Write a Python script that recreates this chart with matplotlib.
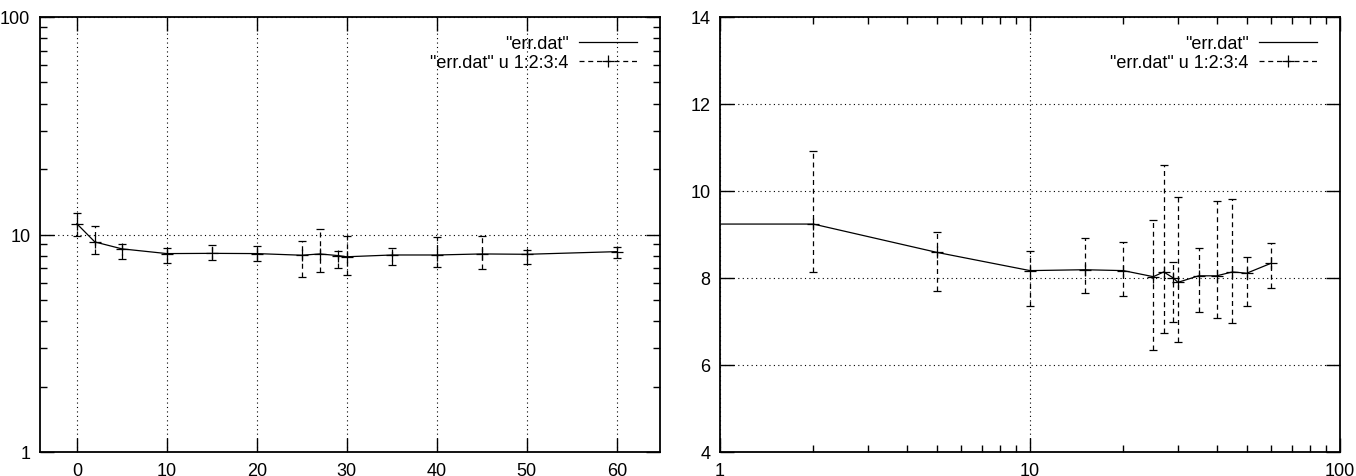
import numpy as np
import matplotlib
matplotlib.use("Agg")
import matplotlib.pyplot as plt
from matplotlib.lines import Line2D
from matplotlib.ticker import LogLocator, NullFormatter

plt.rcParams['font.family'] = ['Liberation Sans', 'DejaVu Sans']
plt.rcParams['font.size'] = 13

# data (err.dat: x, y, ylow, yhigh)
x = np.array([0, 2, 5, 10, 15, 20, 25, 27, 29, 30, 35, 40, 45, 50, 60])
y = np.array([11.2, 9.24, 8.59, 8.17, 8.19, 8.17, 8.03, 8.14, 8.0, 7.9, 8.05, 8.05, 8.14, 8.11, 8.34])
ylow = np.array([9.8, 8.14, 7.71, 7.36, 7.65, 7.59, 6.35, 6.73, 7.0, 6.54, 7.21, 7.08, 6.97, 7.35, 7.77])
yhigh = np.array([12.6, 10.93, 9.06, 8.63, 8.93, 8.83, 9.34, 10.6, 8.36, 9.86, 8.68, 9.78, 9.82, 8.49, 8.80])

label1 = '"err.dat"'
label2 = '"err.dat" u 1:2:3:4'

DASH = (0, (4, 3))
DOT = (0, (1, 3))

fig = plt.figure(figsize=(13.56, 4.77), dpi=100)
W, H = 1356, 477
ax1 = fig.add_axes([40 / W, 1 - 453 / H, 620 / W, 435 / H])
ax2 = fig.add_axes([720 / W, 1 - 453 / H, 620 / W, 435 / H])


def draw(ax, xs, ys, lo, hi, line_x, line_y):
    ax.plot(line_x, line_y, color='k', lw=0.9)
    eb = ax.errorbar(xs, ys, yerr=[ys - lo, hi - ys], fmt='+', color='k',
                     ms=8, mew=0.9, elinewidth=0.9, capsize=3, capthick=0.9)
    eb[2][0].set_linestyle(DASH)
    handles = [Line2D([], [], color='k', lw=0.9),
               Line2D([], [], color='k', lw=0.9, ls=DASH, marker='+', ms=8, mew=0.9)]
    ax.legend(handles, [label1, label2], loc='upper right', bbox_to_anchor=(0.963, 0.958),
              frameon=False, markerfirst=False, borderpad=0, borderaxespad=0,
              handlelength=3.2, handletextpad=0.6, labelspacing=0.1, fontsize=13)
    ax.grid(True, which='major', color='k', ls=DOT, lw=0.8)
    ax.tick_params(which='both', direction='in', top=True, right=True, width=1.0)
    ax.tick_params(which='major', length=10, pad=7)
    ax.tick_params(which='minor', length=5)
    for s in ax.spines.values():
        s.set_linewidth(1.3)


# left: linear x, log y
draw(ax1, x, y, ylow, yhigh, x, y)
ax1.set_yscale('log')
ax1.set_ylim(1, 100)
ax1.set_xlim(-4.1, 64.8)
ax1.set_xticks(np.arange(0, 61, 10))
ax1.set_yticks([1, 10, 100])
ax1.set_yticklabels(['1', '10', '100'])
ax1.yaxis.set_minor_locator(LogLocator(base=10, subs=np.arange(2, 10)))
ax1.yaxis.set_minor_formatter(NullFormatter())

# right: log x, linear y (x=0 is undefined on a log axis)
valid = x > 0
X2_MIN = 1
draw(ax2, x[valid], y[valid], ylow[valid], yhigh[valid],
     np.r_[X2_MIN, x[valid]], np.r_[y[valid][0], y[valid]])
ax2.set_xscale('log')
ax2.set_xlim(X2_MIN, 100)
ax2.set_ylim(4, 14)
ax2.set_xticks([1, 10, 100])
ax2.set_xticklabels(['1', '10', '100'])
ax2.xaxis.set_minor_locator(LogLocator(base=10, subs=np.arange(2, 10)))
ax2.xaxis.set_minor_formatter(NullFormatter())
ax2.set_yticks(np.arange(4, 15, 2))

fig.savefig('out.png', dpi=100)
